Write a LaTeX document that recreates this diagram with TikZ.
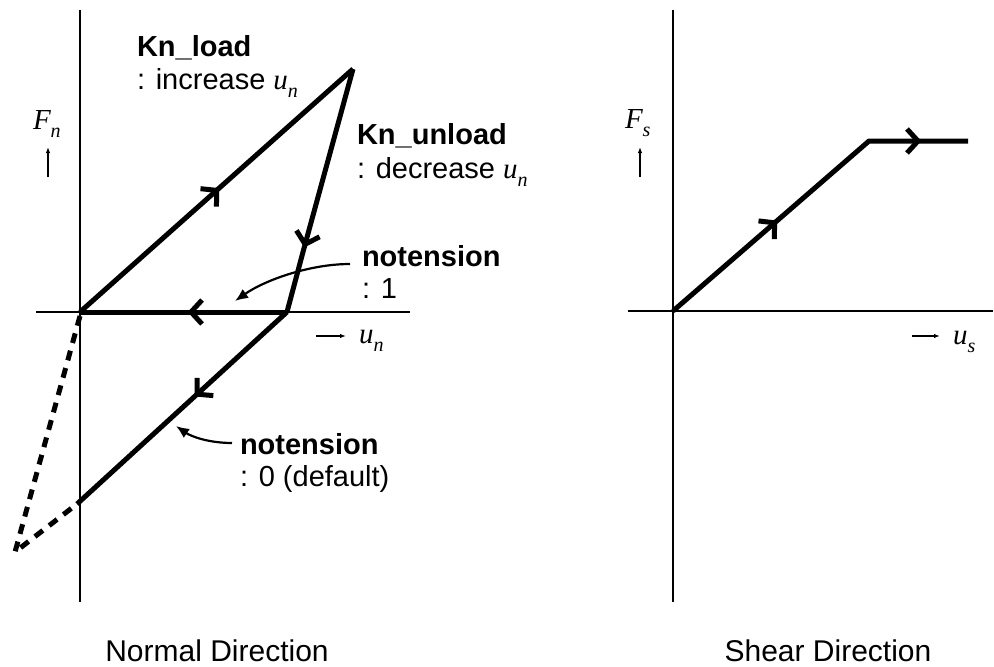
\documentclass[tikz,border=0pt]{standalone}
\usepackage{fontspec}
\setmainfont{Liberation Sans}
\newfontfamily\tms{Liberation Serif}
\usetikzlibrary{arrows.meta,decorations.markings}
\newcommand{\symb}[2]{{\tms\itshape #1}{\fontsize{20}{20}\selectfont\raisebox{-8pt}{\tms\itshape #2}}}
\tikzset{
  axisline/.style={line width=2.4pt},
  curveline/.style={line width=5pt},
  chev/.style={postaction={decorate},decoration={markings,
      mark=at position #1 with {\arrow{Straight Barb[length=11pt,width=24pt]}}}},
  chevtwo/.style 2 args={postaction={decorate},decoration={markings,
      mark=at position #1 with {\arrow{Straight Barb[length=11pt,width=24pt]}},
      mark=at position #2 with {\arrow{Straight Barb[length=11pt,width=24pt]}}}},
  dashline/.style={line width=5pt, dash pattern=on 10pt off 8pt},
  note/.style={line width=2.2pt, -{Latex[length=13pt,width=11pt]}},
  smallarrow/.style={line width=1.3pt, -{Latex[length=6pt,width=4.5pt]}},
  lbl/.style={inner sep=0pt, outer sep=0pt, anchor=base west, font=\fontsize{29}{33}\selectfont},
  blbl/.style={lbl, font=\fontsize{29}{33}\selectfont\bfseries},
  sym/.style={inner sep=0pt, outer sep=0pt, anchor=base west, font=\fontsize{29}{33}\selectfont},
  title/.style={inner sep=0pt, outer sep=0pt, anchor=base, font=\fontsize{30}{34}\selectfont}
}
\begin{document}
\begin{tikzpicture}[x=1pt,y=-1pt]
\useasboundingbox (0,0) rectangle (994,667);
% ---------- Normal direction ----------
\coordinate (Ltop) at (80,10);
\coordinate (Lbot) at (80,602);
\coordinate (Lleft) at (36,312);
\coordinate (Lright) at (410,312);
\draw[axisline] (Ltop) -- (Lbot);
\draw[axisline] (Lleft) -- (Lright);

\coordinate (O) at (80,312);
\coordinate (P) at (353,69);
\coordinate (K) at (303,252);
\coordinate (Q) at (287,312);
\coordinate (R) at (77,504);
\coordinate (Dtop) at (80,316);
\coordinate (D) at (15,552);

\draw[curveline, chev=0.51] (O) -- (P);
\draw[curveline, chev=0.735] (P) -- (K) -- (Q);
\draw[curveline, chev=0.48] (Q) -- (O);
\draw[curveline, chev=0.44] (Q) -- (R);
\draw[dashline] (Dtop) -- (D) -- (R);

% labels
\node[blbl] (kload) at (137,56) {Kn\_load};
\node[lbl] (kloadt) at (137,89) {: increase \symb{u}{n}};
\node[blbl] (kunload) at (357,144) {Kn\_unload};
\node[lbl] (kunloadt) at (357,178) {: decrease \symb{u}{n}};
\node[blbl] (nt1) at (362,266) {notension};
\node[lbl] (nt1t) at (362,298) {: 1};
\node[blbl] (nt0) at (240,454) {notension};
\node[lbl] (nt0t) at (240,486) {: 0 (default)};

\coordinate (a1s) at (350,264);
\coordinate (a1e) at (235,301);
\draw[note] (a1s) .. controls (310,264) and (265,280) .. (a1e);
\coordinate (a0s) at (232,443);
\coordinate (a0e) at (176,426);
\draw[note] (a0s) .. controls (210,443) and (192,437) .. (a0e);

\node[sym] (Fn) at (33,129) {\symb{F}{n}};
\coordinate (fna) at (48,177);
\coordinate (fnb) at (48,147);
\draw[smallarrow] (fna) -- (fnb);
\coordinate (una) at (316,336);
\coordinate (unb) at (346,336);
\draw[smallarrow] (una) -- (unb);
\node[sym] (un) at (359,343) {\symb{u}{n}};

\node[title] (tn) at (217,661) {Normal Direction};

% ---------- Shear direction ----------
\coordinate (Rtop) at (673,10);
\coordinate (Rbot) at (673,602);
\coordinate (Rleft) at (628,311);
\coordinate (Rright) at (993,311);
\draw[axisline] (Rtop) -- (Rbot);
\draw[axisline] (Rleft) -- (Rright);

\coordinate (S0) at (673,311);
\coordinate (S1) at (869,141);
\coordinate (S2) at (968,141);
\draw[curveline, chevtwo={0.385}{0.87}] (S0) -- (S1) -- (S2);

\node[sym] (Fs) at (625,128) {\symb{F}{s}};
\coordinate (fsa) at (640,177);
\coordinate (fsb) at (640,147);
\draw[smallarrow] (fsa) -- (fsb);
\coordinate (usa) at (912,336);
\coordinate (usb) at (940,336);
\draw[smallarrow] (usa) -- (usb);
\node[sym] (us) at (953,344) {\symb{u}{s}};

\node[title] (ts) at (828,661) {Shear Direction};
\end{tikzpicture}
\end{document}
